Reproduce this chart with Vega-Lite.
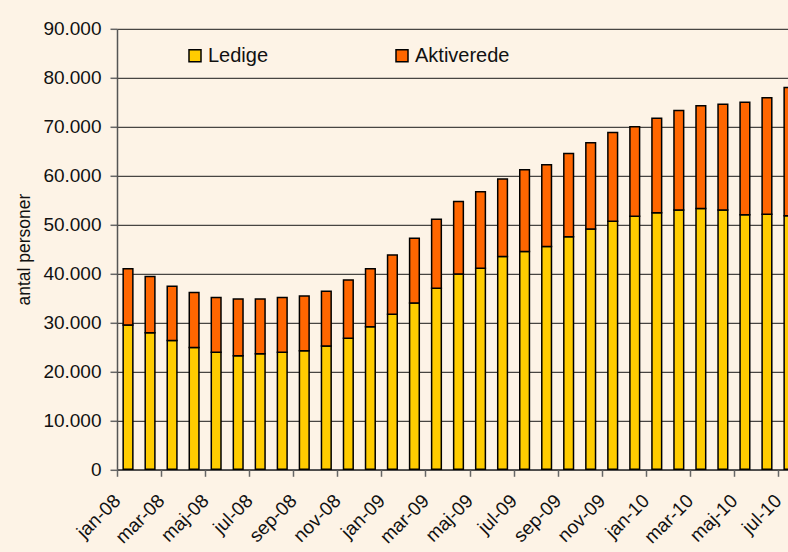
{
  "$schema": "https://vega.github.io/schema/vega-lite/v6.json",
  "autosize": {"type": "none"},
  "width": 671,
  "height": 440.5,
  "padding": {"left": 117, "top": 28.8, "right": 0, "bottom": 82.7},
  "background": "#FDF3E6",
  "config": {
    "view": {"stroke": null},
    "font": "Liberation Sans",
    "axis": {"labelColor": "#111", "titleColor": "#111", "labelFont": "Liberation Sans", "titleFont": "Liberation Sans"},
    "legend": {"labelColor": "#111", "labelFont": "Liberation Sans"}
  },
  "data": {
    "values": [
      {"m": "jan-08", "Ledige": 29500, "Aktiverede": 11500},
      {"m": "feb-08", "Ledige": 27900, "Aktiverede": 11500},
      {"m": "mar-08", "Ledige": 26300, "Aktiverede": 11100},
      {"m": "apr-08", "Ledige": 24900, "Aktiverede": 11200},
      {"m": "maj-08", "Ledige": 23900, "Aktiverede": 11200},
      {"m": "jun-08", "Ledige": 23200, "Aktiverede": 11600},
      {"m": "jul-08", "Ledige": 23600, "Aktiverede": 11200},
      {"m": "aug-08", "Ledige": 23900, "Aktiverede": 11200},
      {"m": "sep-08", "Ledige": 24200, "Aktiverede": 11200},
      {"m": "okt-08", "Ledige": 25200, "Aktiverede": 11200},
      {"m": "nov-08", "Ledige": 26800, "Aktiverede": 11900},
      {"m": "dec-08", "Ledige": 29100, "Aktiverede": 11900},
      {"m": "jan-09", "Ledige": 31700, "Aktiverede": 12100},
      {"m": "feb-09", "Ledige": 34000, "Aktiverede": 13200},
      {"m": "mar-09", "Ledige": 37000, "Aktiverede": 14100},
      {"m": "apr-09", "Ledige": 39900, "Aktiverede": 14800},
      {"m": "maj-09", "Ledige": 41100, "Aktiverede": 15600},
      {"m": "jun-09", "Ledige": 43500, "Aktiverede": 15800},
      {"m": "jul-09", "Ledige": 44500, "Aktiverede": 16700},
      {"m": "aug-09", "Ledige": 45500, "Aktiverede": 16700},
      {"m": "sep-09", "Ledige": 47500, "Aktiverede": 17000},
      {"m": "okt-09", "Ledige": 49100, "Aktiverede": 17600},
      {"m": "nov-09", "Ledige": 50700, "Aktiverede": 18100},
      {"m": "dec-09", "Ledige": 51700, "Aktiverede": 18300},
      {"m": "jan-10", "Ledige": 52400, "Aktiverede": 19300},
      {"m": "feb-10", "Ledige": 53000, "Aktiverede": 20300},
      {"m": "mar-10", "Ledige": 53300, "Aktiverede": 21000},
      {"m": "apr-10", "Ledige": 53000, "Aktiverede": 21600},
      {"m": "maj-10", "Ledige": 52000, "Aktiverede": 23000},
      {"m": "jun-10", "Ledige": 52100, "Aktiverede": 23800},
      {"m": "jul-10", "Ledige": 51800, "Aktiverede": 26200}
    ]
  },
  "transform": [{"fold": ["Ledige", "Aktiverede"], "as": ["serie", "antal"]}],
  "mark": {"type": "bar", "stroke": "#000", "strokeWidth": 1.5},
  "encoding": {
    "x": {
      "field": "m",
      "type": "nominal",
      "sort": null,
      "scale": {"range": [0, 683], "paddingInner": 0.56, "paddingOuter": 0.28},
      "axis": {
        "values": ["jan-08", "mar-08", "maj-08", "jul-08", "sep-08", "nov-08", "jan-09", "mar-09", "maj-09", "jul-09", "sep-09", "nov-09", "jan-10", "mar-10", "maj-10", "jul-10"],
        "title": null,
        "labelAngle": -45,
        "labelAlign": "right",
        "labelBaseline": "middle",
        "labelFontSize": 19,
        "labelPadding": 21,
        "bandPosition": 0.5,
        "tickOffset": -11.02,
        "tickSize": 7,
        "tickColor": "#666",
        "tickWidth": 1.5,
        "domainColor": "#555",
        "domainWidth": 1.5,
        "grid": false
      }
    },
    "y": {
      "field": "antal",
      "type": "quantitative",
      "stack": "zero",
      "scale": {"domain": [0, 90000], "nice": false},
      "axis": {
        "values": [0, 10000, 20000, 30000, 40000, 50000, 60000, 70000, 80000, 90000],
        "labelExpr": "replace(format(datum.value, ','), ',', '.')",
        "title": "antal personer",
        "titleFontSize": 17.5,
        "titleFontWeight": "normal",
        "titlePadding": 9,
        "labelFontSize": 19,
        "labelPadding": 9,
        "tickSize": 7,
        "tickColor": "#666",
        "tickWidth": 1.5,
        "domainColor": "#555",
        "domainWidth": 1.5,
        "grid": true,
        "gridColor": "#1a1a1a",
        "gridWidth": 1
      }
    },
    "color": {
      "field": "serie",
      "type": "nominal",
      "scale": {"domain": ["Ledige", "Aktiverede"], "range": ["#FFCC00", "#FF6600"]},
      "legend": {
        "orient": "none",
        "legendX": 68,
        "legendY": 17,
        "direction": "horizontal",
        "columns": 2,
        "columnPadding": 123,
        "title": null,
        "symbolType": "square",
        "symbolSize": 144,
        "symbolStrokeColor": "#000",
        "symbolStrokeWidth": 1.5,
        "labelFontSize": 20,
        "labelOffset": 3,
        "padding": 0
      }
    },
    "order": {"field": "serie", "sort": "descending"}
  }
}
